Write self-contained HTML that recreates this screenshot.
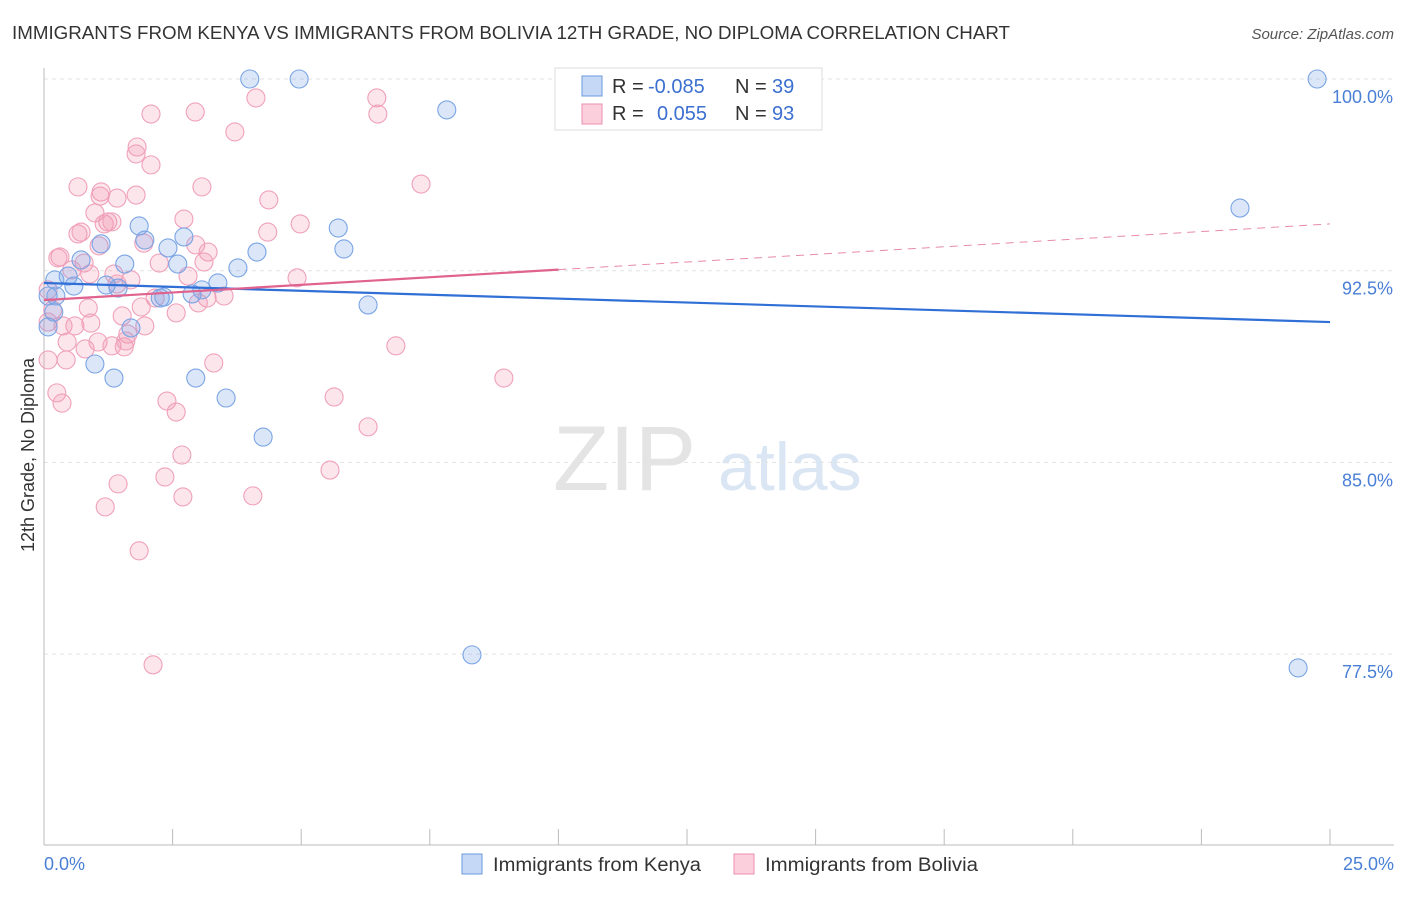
<!DOCTYPE html>
<html><head><meta charset="utf-8"><style>
body{margin:0;background:#fff;font-family:"Liberation Sans",sans-serif;}
svg text{font-family:"Liberation Sans",sans-serif;}
</style></head><body>
<svg width="1406" height="892" xmlns="http://www.w3.org/2000/svg">
<text x="12" y="39" font-size="18" fill="#333" textLength="998" lengthAdjust="spacingAndGlyphs">IMMIGRANTS FROM KENYA VS IMMIGRANTS FROM BOLIVIA 12TH GRADE, NO DIPLOMA CORRELATION CHART</text>
<text x="1394" y="39" font-size="15" fill="#555" text-anchor="end" font-style="italic">Source: ZipAtlas.com</text>
<text x="553" y="490" font-size="92" fill="#e4e4e4" font-family="Liberation Serif">ZIP</text>
<text x="718" y="490" font-size="68" fill="#dbe6f5">atlas</text>
<text transform="translate(34,455) rotate(-90)" font-size="18" fill="#333" text-anchor="middle">12th Grade, No Diploma</text>
<g id="grid"></g>
<line x1="44" y1="68" x2="44" y2="845" stroke="#bbb"/>
<line x1="44" y1="845" x2="1394" y2="845" stroke="#bbb"/>
<g id="xticks"></g>
<text x="44" y="870" font-size="18" fill="#4a7fd6">0.0%</text>
<text x="1394" y="870" font-size="18" fill="#4a7fd6" text-anchor="end">25.0%</text>
<g id="pts"></g>
<g id="lines"></g>
<g>
<rect x="555" y="68" width="267" height="62" fill="#fff" stroke="#ddd"/>
<rect x="582" y="76" width="20" height="20" fill="#c5d8f5" stroke="#6b9ae0"/>
<rect x="582" y="104" width="20" height="20" fill="#fbd0dc" stroke="#ec8fae"/>
<text y="93" font-size="20" fill="#333"><tspan x="612">R =</tspan><tspan x="648" fill="#3b6fd0">-0.085</tspan><tspan x="735">N =</tspan><tspan x="772" fill="#3b6fd0">39</tspan></text>
<text y="120" font-size="20" fill="#333"><tspan x="612">R =</tspan><tspan x="657" fill="#3b6fd0">0.055</tspan><tspan x="735">N =</tspan><tspan x="772" fill="#3b6fd0">93</tspan></text>
</g>
<g>
<rect x="462" y="854" width="20" height="20" fill="#c5d8f5" stroke="#6b9ae0"/>
<text x="493" y="871" font-size="19" fill="#333" textLength="208" lengthAdjust="spacingAndGlyphs">Immigrants from Kenya</text>
<rect x="734" y="854" width="20" height="20" fill="#fbd0dc" stroke="#ec8fae"/>
<text x="765" y="871" font-size="19" fill="#333" textLength="213" lengthAdjust="spacingAndGlyphs">Immigrants from Bolivia</text>
</g>
</svg>
<script>
const yTicks=[100,92.5,85,77.5];
const yTickLabels=["100.0%","92.5%","85.0%","77.5%"];
const xTickVals=[0,2.5,5,7.5,10,12.5,15,17.5,20,22.5,25];
const kenyaX=[4.00,4.96,7.83,24.75,23.25,1.85,1.96,1.11,2.41,2.72,4.14,5.72,5.83,0.72,1.57,2.60,3.77,0.47,0.21,1.21,0.58,1.44,3.38,3.07,2.26,2.88,0.08,0.23,2.33,6.30,0.19,0.08,1.69,0.99,1.36,2.95,3.54,4.26,8.32,24.38];
const kenyaY=[100,100,98.79,100,94.95,94.25,93.70,93.55,93.39,93.82,93.23,94.17,93.35,92.92,92.76,92.76,92.61,92.29,92.14,91.94,91.90,91.82,92.02,91.75,91.43,91.59,91.51,91.51,91.47,91.16,90.88,90.30,90.26,88.85,88.30,88.30,87.52,85.99,77.47,76.96];
const boliviaX=[2.08,2.94,4.12,6.47,6.49,3.71,1.81,1.79,2.08,0.66,1.11,1.09,1.79,1.42,3.07,4.37,7.33,0.99,1.24,1.17,1.32,2.72,4.98,0.66,0.72,4.35,1.94,1.07,2.95,3.19,0.31,0.27,0.78,2.24,3.11,0.54,0.89,1.36,1.69,2.80,4.92,1.42,2.16,3.17,3.50,3.00,1.89,0.86,2.57,1.52,0.17,0.08,0.60,0.37,0.91,1.96,1.63,0.45,1.05,1.32,1.56,1.59,0.80,6.84,0.08,0.43,3.30,8.94,0.25,0.35,2.39,5.64,2.57,6.30,2.68,5.56,2.35,1.44,2.70,4.06,1.19,1.85,2.12,0.08];
const boliviaY=[98.63,98.71,99.26,99.26,98.63,97.93,97.34,97.07,96.64,95.78,95.58,95.42,95.46,95.34,95.78,95.27,95.89,94.76,94.41,94.33,94.41,94.52,94.33,93.94,94.01,94.01,93.58,93.47,93.51,93.23,93.04,93.00,92.80,92.80,92.84,92.53,92.37,92.37,92.14,92.29,92.22,91.98,91.43,91.43,91.51,91.24,91.08,91.04,90.85,90.73,90.96,90.49,90.34,90.34,90.45,90.34,90.02,89.71,89.71,89.56,89.52,89.75,89.44,89.56,89.01,89.01,88.89,88.30,87.72,87.32,87.40,87.56,86.97,86.39,85.29,84.70,84.43,84.16,83.65,83.69,83.26,81.54,77.08,91.75];
const kenyaTrend=[92.02,90.49];
const boliviaTrend=[91.35,94.33];
const boliviaSolidEnd=[10];
const NS="http://www.w3.org/2000/svg";
const X=v=>44+v/25*1286;
const Y=v=>79+(100-v)/7.5*191.7;
function mk(t,a,p){const e=document.createElementNS(NS,t);for(const k in a)e.setAttribute(k,a[k]);p.appendChild(e);return e;}
const grid=document.getElementById('grid');
yTicks.forEach((t,i)=>{
 const l=mk('line',{x1:44,x2:1394,y1:Y(t),y2:Y(t),stroke:'#e2e2e2','stroke-dasharray':'4,4'},grid);
 
 
 const tx=mk('text',{x:1393,y:Y(t)+24,'font-size':18,fill:'#4a7fd6','text-anchor':'end'},grid);
 tx.textContent=yTickLabels[i];
 
 
});
const xt=document.getElementById('xticks');
xTickVals.forEach(v=>{
 const l=mk('line',{x1:X(v),x2:X(v),y1:829,y2:845,stroke:'#bbb'},xt);
 
 
});
const pts=document.getElementById('pts');
boliviaX.forEach((x,i)=>{
 const c=mk('circle',{cx:X(x),cy:Y(boliviaY[i]),r:9,fill:'rgba(240,140,170,0.22)',stroke:'#f0a0ba','stroke-width':1.1},pts);
 
 
});
kenyaX.forEach((x,i)=>{
 const c=mk('circle',{cx:X(x),cy:Y(kenyaY[i]),r:9,fill:'rgba(110,160,230,0.25)',stroke:'#7aa4e4','stroke-width':1.1},pts);
 
 
});
const lg=document.getElementById('lines');
const bl=mk('line',{x1:X(0),y1:Y(kenyaTrend[0]),x2:X(25),y2:Y(kenyaTrend[1]),stroke:'#2f6fd6','stroke-width':2.2},lg);


const pAt=v=>boliviaTrend[0]+(boliviaTrend[1]-boliviaTrend[0])*v/25;
const pl=mk('line',{x1:X(0),y1:Y(pAt(0)),x2:X(boliviaSolidEnd[0]),y2:Y(pAt(boliviaSolidEnd[0])),stroke:'#e0628e','stroke-width':2.2},lg);


const pd=mk('line',{x1:X(boliviaSolidEnd[0]),y1:Y(pAt(boliviaSolidEnd[0])),x2:X(25),y2:Y(pAt(25)),stroke:'#e88aa8','stroke-width':1,'stroke-dasharray':'8,6'},lg);


</script>
</body></html>
